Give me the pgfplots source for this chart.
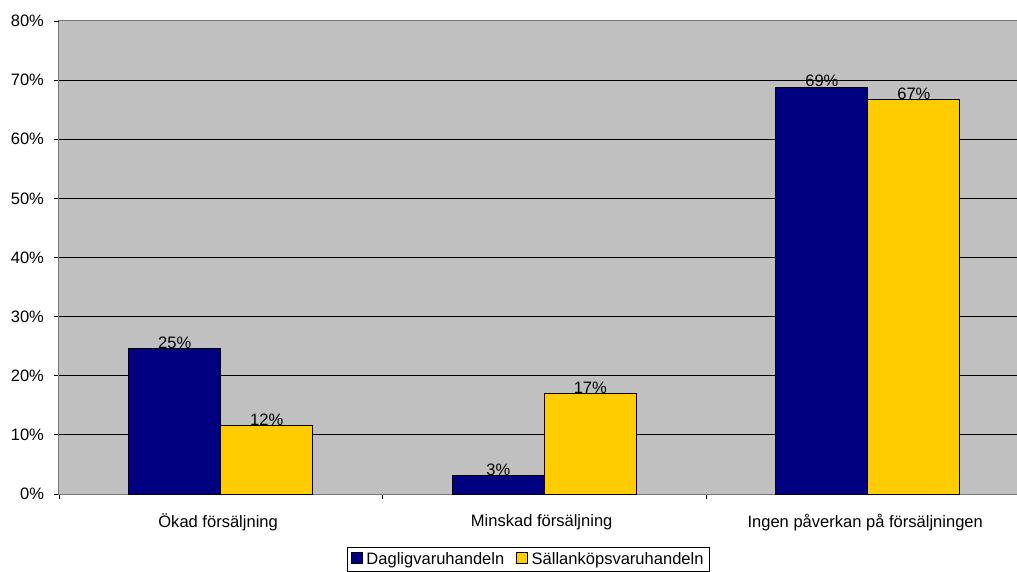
\documentclass[border=0pt]{standalone}
\usepackage{pgfplots}
\pgfplotsset{compat=1.18}
\usepackage{fontspec}
\setmainfont{Liberation Sans}
\definecolor{navyb}{RGB}{0,0,128}
\definecolor{goldb}{RGB}{255,204,0}
\definecolor{plotbg}{RGB}{192,192,192}
\definecolor{framegray}{RGB}{120,120,120}
\begin{document}
\begin{tikzpicture}[font=\fontsize{12.4pt}{14.5pt}\selectfont]
\path[use as bounding box] (-44.25pt,-57.75pt) rectangle (718.5pt,370.5pt);
\begin{axis}[
  at={(0,0)}, anchor=south west,
  scale only axis, width=728pt, height=354.75pt,
  ymin=0, ymax=80, ytick={0,10,...,70},
  extra y ticks={80}, extra y tick style={grid=none},
  xmin=-0.5, xmax=2.5,
  xtick={-0.5,0.5,1.5,2.5}, xticklabels={},
  extra x ticks={0,1,2},
  extra x tick labels={Ökad försäljning, Minskad försäljning, Ingen påverkan på försäljningen},
  extra x tick style={major tick length=0pt, xticklabel style={yshift=-11.5pt, xshift=-2pt}},
  tick pos=left,
  tick align=outside, major tick length=3.75pt,
  tick style={black, line width=0.6pt},
  /pgf/number format/assume math mode=true,
  yticklabel={\pgfmathprintnumber{\tick}\%},
  yticklabel style={xshift=-4pt},
  ybar=0pt, bar width=69pt,
  axis background/.style={fill=plotbg},
  axis line style={framegray, line width=0.75pt},
  ymajorgrids, major grid style={black, line width=0.6pt},
  nodes near coords={\pgfmathprintnumber[fixed,precision=0]{\pgfplotspointmeta}\%},
  every node near coord/.append style={anchor=base, yshift=0.3pt, inner sep=0pt, black},
  legend style={at={(0.4835,-0.111)}, anchor=north, legend columns=2, draw=black, fill=white,
    inner xsep=3pt, inner ysep=2.5pt, nodes={inner sep=1.5pt},
    /tikz/every odd column/.append style={column sep=1.2pt},
    /tikz/every even column/.append style={column sep=7.5pt}},
  legend image code/.code={\draw[#1] (0pt,-3.2pt) rectangle (8.2pt,5pt);},
]
\addplot[fill=navyb, draw=black, line width=0.6pt] coordinates {(0,24.6) (1,3.1) (2,68.8)};
\addplot[fill=goldb, draw=black, line width=0.6pt] coordinates {(0,11.6) (1,17.0) (2,66.7)};
\legend{Dagligvaruhandeln, Sällanköpsvaruhandeln}
\end{axis}
\end{tikzpicture}
\end{document}
